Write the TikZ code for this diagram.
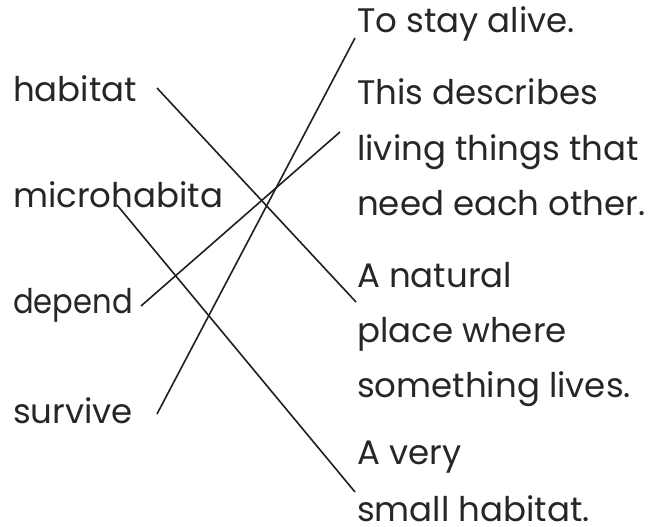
\documentclass[tikz,border=0pt]{standalone}
\usepackage{fontspec}
\setmainfont{Poppins}
\begin{document}
\begin{tikzpicture}[x=1pt,y=-1pt,
  word/.style={anchor=base west,inner sep=0pt,font=\fontsize{34}{40}\selectfont,text=black!85},
  link/.style={line width=1.6pt,draw=black!88}]
\useasboundingbox (0,0) rectangle (670,527);
\node[word] (w1) at (13,102) {habitat};
\node[word] (w2) at (13,207) {microhabita};
\node[word] (w3) at (13,313) {\scalebox{0.9}[1]{depend}};
\node[word] (w4) at (13,423) {survive};
\node[word] (d1) at (357,33) {To stay alive.};
\node[word] (d2a) at (357,105) {This describes};
\node[word] (d2b) at (357,160) {living things that};
\node[word] (d2c) at (357,215) {need each other.};
\node[word] (d3a) at (357,287) {A natural};
\node[word] (d3b) at (357,342) {place where};
\node[word] (d3c) at (357,397) {something lives.};
\node[word] (d4a) at (357,464) {A very};
\node[word] (d4b) at (357,521) {small habitat.};
\coordinate (a1) at (157,88);
\coordinate (a2) at (117,205);
\coordinate (a3) at (141,306);
\coordinate (a4) at (157,414);
\coordinate (b1) at (355,38);
\coordinate (b2) at (340,132);
\coordinate (b3) at (356,302);
\coordinate (b4) at (355,492);
\draw[link] (a1) -- (b3);
\draw[link] (a2) -- (b4);
\draw[link] (a3) -- (b2);
\draw[link] (a4) -- (b1);
\end{tikzpicture}
\end{document}
